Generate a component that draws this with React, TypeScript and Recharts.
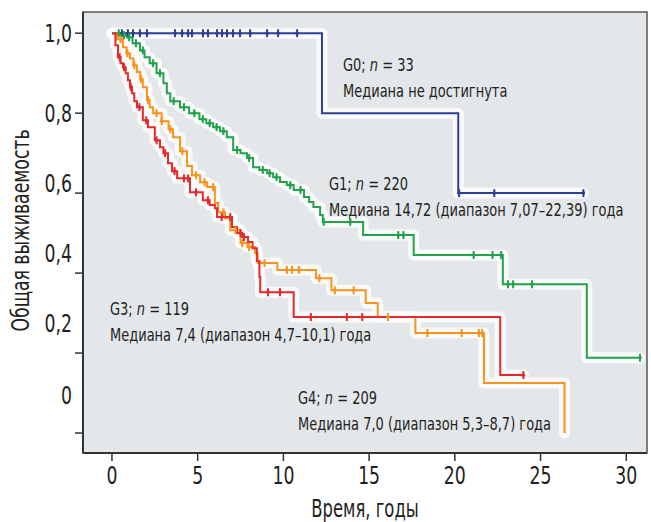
import React from 'react';
import { LineChart, Line, XAxis, YAxis, ReferenceArea } from 'recharts';

const xTicks = [0, 5, 10, 15, 20, 25, 30];
const yTicks = [0, 0.2, 0.4, 0.6, 0.8, 1.0];

// each curve: [time, survival after the step]; censored = times of "+" marks
const g0Steps = [[0, 1], [12.25, 0.8], [20.2, 0.6], [27.5, 0.6]];
const g0Censored = [0.58, 0.93, 1.23, 1.63, 2.04, 3.68, 4.09, 4.44, 4.67, 5.31, 5.6, 6.13, 6.42, 6.71, 7.06, 7.47, 8.06, 9.05, 9.69, 10.8, 20.25, 22.3, 27.5];

const g1Steps = [
  [0, 1], [0.5, 0.995], [0.88, 0.99], [1.2, 0.975], [1.63, 0.957], [1.9, 0.94], [2.2, 0.925], [2.6, 0.9],
  [3.0, 0.875], [3.2, 0.85], [3.4, 0.83], [3.97, 0.815], [4.5, 0.8], [5.1, 0.785], [5.5, 0.775], [5.9, 0.765],
  [6.3, 0.755], [6.7, 0.74], [7.07, 0.708], [7.5, 0.7], [7.88, 0.688], [8.23, 0.665], [8.6, 0.658], [9.05, 0.65],
  [9.4, 0.64], [9.8, 0.628], [10.2, 0.62], [10.6, 0.608], [11.2, 0.59], [11.5, 0.578], [11.75, 0.565], [12.14, 0.545],
  [12.3, 0.528], [14.65, 0.495], [17.6, 0.445], [22.8, 0.372], [27.7, 0.188], [30.8, 0.188],
];
const g1Censored = [0.4, 0.7, 1.0, 1.4, 1.8, 2.4, 2.8, 3.6, 4.2, 4.8, 5.3, 5.7, 6.1, 6.5, 7.3, 8.0, 8.8, 9.2, 9.6, 10.4, 11.0, 12.35, 13.9, 16.7, 17.0, 21.1, 22.2, 22.7, 23.1, 23.4, 24.5, 30.8];

const g3Steps = [
  [0, 1], [0.2, 0.97], [0.35, 0.94], [0.5, 0.925], [0.64, 0.915], [0.8, 0.9], [0.93, 0.882], [1.05, 0.865],
  [1.17, 0.85], [1.3, 0.83], [1.46, 0.815], [1.8, 0.782], [2.1, 0.765], [2.5, 0.732], [2.8, 0.715], [3.0, 0.7],
  [3.27, 0.675], [3.5, 0.655], [3.8, 0.637], [4.55, 0.602], [5.3, 0.582], [5.7, 0.57], [6.0, 0.562], [6.13, 0.54],
  [7.0, 0.515], [7.3, 0.5], [7.6, 0.49], [7.94, 0.478], [8.2, 0.462], [8.45, 0.43], [8.6, 0.39], [8.65, 0.352],
  [10.6, 0.29], [22.65, 0.145], [24.0, 0.145],
];
const g3Censored = [0.45, 0.7, 1.1, 1.6, 2.0, 2.6, 3.1, 3.65, 4.2, 4.44, 4.9, 5.6, 6.4, 6.9, 7.5, 7.7, 9.1, 9.8, 11.6, 13.7, 14.6, 24.0];

const g4Steps = [
  [0, 1], [0.3, 0.985], [0.64, 0.965], [0.85, 0.95], [1.05, 0.937], [1.25, 0.92], [1.45, 0.903], [1.65, 0.885],
  [1.8, 0.865], [2.04, 0.833], [2.2, 0.815], [2.4, 0.8], [2.9, 0.78], [3.3, 0.76], [3.56, 0.74], [3.97, 0.705],
  [4.38, 0.668], [4.67, 0.645], [5.14, 0.627], [5.55, 0.615], [6.0, 0.575], [6.2, 0.552], [6.6, 0.537], [6.9, 0.507],
  [7.5, 0.475], [7.9, 0.465], [8.35, 0.45], [8.5, 0.425], [9.65, 0.408], [11.9, 0.387], [12.8, 0.357], [14.8, 0.325],
  [15.5, 0.29], [17.7, 0.25], [21.7, 0.125], [26.4, 0],
];
const g4Censored = [0.5, 0.9, 1.3, 1.7, 2.1, 2.6, 2.9, 3.4, 4.1, 4.9, 5.4, 5.9, 6.5, 7.2, 7.6, 8.0, 8.9, 10.2, 10.5, 10.9, 12.1, 13.0, 14.1, 16.1, 18.4, 20.4, 21.4, 21.6];

const FONT = "'Liberation Sans Narrow', 'DejaVu Sans Condensed', 'Roboto Condensed', 'Noto Sans', sans-serif";
const TEXT = '#231f20';
const SQUEEZE = 0.8; // the source uses a condensed face
const NOTE_SQUEEZE = 0.85;

// the original prints the lower y labels above their ticks
const yLabelShift: Record<string, number> = { '1': 0, '0.8': 0, '0.6': -10, '0.4': -20, '0.2': -30, '0': -38 };

function buildCurve(steps: number[][], censored: number[]) {
  const rows = steps.map(([t, s]) => ({ t, s, c: false }));
  censored.forEach((t) => {
    let s = steps[0][1];
    for (const [st, sv] of steps) if (st <= t) s = sv;
    rows.push({ t, s, c: true });
  });
  return rows.sort((a, b) => a.t - b.t);
}

const curves = [
  { name: 'G0', color: '#2f3f92', data: buildCurve(g0Steps, g0Censored) },
  { name: 'G1', color: '#22a34b', data: buildCurve(g1Steps, g1Censored) },
  { name: 'G4', color: '#f7941d', data: buildCurve(g4Steps, g4Censored) },
  { name: 'G3', color: '#e42a2c', data: buildCurve(g3Steps, g3Censored) },
];

const censorDot = (color: string) => (props: any) => {
  const { cx, cy, payload, index } = props;
  if (!payload || !payload.c) return <g key={`d${index}`} />;
  return (
    <g key={`d${index}`}>
      <line x1={cx} x2={cx} y1={cy - 4} y2={cy + 4} stroke={color} strokeWidth={2} />
      <circle cx={cx} cy={cy} r={1.8} fill={color} />
    </g>
  );
};

const YTick = (props: any) => {
  const { x, y, payload } = props;
  const v = payload.value;
  const shift = yLabelShift[String(v)] ?? 0;
  const label = v === 0 ? '0' : v.toFixed(1).replace('.', ',');
  return (
    <text transform={`translate(${x} ${y + shift}) scale(${SQUEEZE} 1)`} dy="0.36em" textAnchor="end" fontSize={24} fill={TEXT} fontFamily={FONT}>
      {label}
    </text>
  );
};

const XTick = (props: any) => {
  const { x, y, payload } = props;
  return (
    <text transform={`translate(${x} ${y}) scale(${SQUEEZE} 1)`} dy="0.72em" textAnchor="middle" fontSize={24} fill={TEXT} fontFamily={FONT}>
      {payload.value}
    </text>
  );
};

const notes = [
  { x: 343, y: 71, head: 'G0', n: '33', text: 'Медиана не достигнута' },
  { x: 329, y: 190, head: 'G1', n: '220', text: 'Медиана 14,72 (диапазон 7,07–22,39) года' },
  { x: 110, y: 315, head: 'G3', n: '119', text: 'Медиана 7,4 (диапазон 4,7–10,1) года' },
  { x: 298, y: 404, head: 'G4', n: '209', text: 'Медиана 7,0 (диапазон 5,3–8,7) года' },
];

export default function App() {
  return (
    <div style={{ position: 'absolute', left: 0, top: 0, width: 651, height: 522, background: '#fff', fontFamily: FONT }}>
      <LineChart width={651} height={522} margin={{ top: 12, right: 4, bottom: 0, left: 0 }}>
        <ReferenceArea x1={-1.69} x2={31.21} y1={-0.05} y2={1.053} fill="#e3e7ea" fillOpacity={1} stroke="#555" strokeWidth={1.5} />
        <XAxis
          type="number"
          dataKey="t"
          domain={[-1.69, 31.21]}
          ticks={xTicks}
          allowDataOverflow
          height={69}
          tickSize={8}
          tickMargin={6}
          tick={<XTick />}
          tickLine={{ stroke: '#333', strokeWidth: 1.5 }}
          axisLine={{ stroke: '#333', strokeWidth: 2 }}
          label={{
            content: ({ viewBox }: any) => (
              <text transform={`translate(${viewBox.x + viewBox.width / 2} 517) scale(0.76 1)`} textAnchor="middle" fontSize={24} fill={TEXT} fontFamily={FONT}>
                Время, годы
              </text>
            ),
          }}
        />
        <YAxis
          type="number"
          domain={[-0.05, 1.053]}
          ticks={yTicks}
          allowDataOverflow
          width={83}
          tickSize={8}
          tickMargin={3}
          tick={<YTick />}
          tickLine={{ stroke: '#333', strokeWidth: 1.5 }}
          axisLine={{ stroke: '#333', strokeWidth: 2 }}
          label={{
            content: ({ viewBox }: any) => {
              const cx = viewBox.x + 29;
              const cy = viewBox.y + viewBox.height / 2 - 2;
              return (
                <text transform={`translate(${cx} ${cy}) rotate(-90) scale(0.8 1)`} textAnchor="middle" fontSize={24} fill={TEXT} fontFamily={FONT}>
                  Общая выживаемость
                </text>
              );
            },
          }}
        />
        {curves.map((c) => (
          <Line
            key={`halo-${c.name}`}
            data={c.data}
            dataKey="s"
            type="stepAfter"
            stroke="#ffffff"
            strokeOpacity={0.8}
            strokeWidth={11}
            strokeLinejoin="round"
            strokeLinecap="round"
            dot={false}
            activeDot={false}
            legendType="none"
            isAnimationActive={false}
          />
        ))}
        {curves.map((c) => (
          <Line
            key={c.name}
            name={c.name}
            data={c.data}
            dataKey="s"
            type="stepAfter"
            stroke={c.color}
            strokeWidth={2}
            dot={censorDot(c.color)}
            activeDot={false}
            isAnimationActive={false}
          />
        ))}
      </LineChart>
      <svg width={651} height={522} style={{ position: 'absolute', left: 0, top: 0, pointerEvents: 'none' }}>
        {notes.map((n) => (
          <g key={n.head} transform={`translate(${n.x} ${n.y}) scale(${NOTE_SQUEEZE} 1)`} fontSize={17} fill={TEXT} fontFamily={FONT}>
            <text x={0} y={0}>
              {n.head}; <tspan fontStyle="italic">n</tspan> = {n.n}
            </text>
            <text x={0} y={26}>{n.text}</text>
          </g>
        ))}
      </svg>
    </div>
  );
}
